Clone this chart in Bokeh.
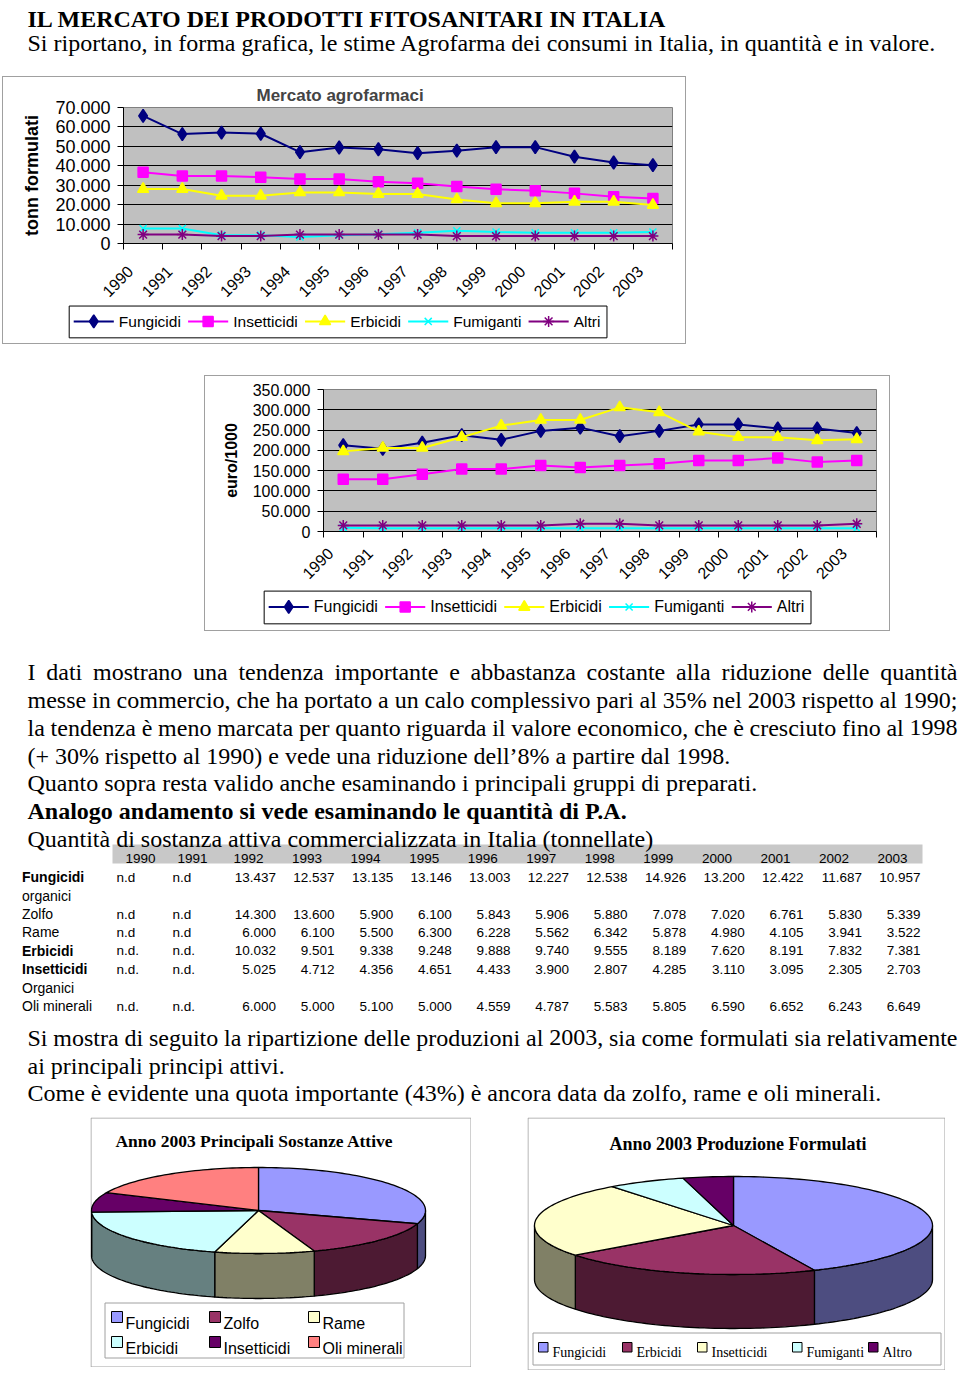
import math, glob, os
from bokeh.plotting import figure
from bokeh.models import Range1d, FixedTicker, Spacer, CustomJSTickFormatter
from bokeh.layouts import column, row
from bokeh.core.properties import value
from bokeh.embed import file_html
from bokeh.resources import INLINE

# ------------------------------------------------------------------ data
years = list(range(1990, 2004))

# tonnellate di formulati
tonn_fungicidi = [65700, 56300, 57100, 56500, 47000, 49400, 48500, 46500, 47800, 49600, 49600, 44700, 41700, 40300]
tonn_insetticidi = [36700, 34800, 34800, 34100, 33200, 33200, 31800, 31000, 29300, 27900, 27200, 25800, 24100, 23200]
tonn_erbicidi = [28000, 28000, 24600, 24600, 26300, 26300, 25500, 25500, 22700, 20700, 20700, 21500, 21500, 19800]
tonn_fumiganti = [7700, 7700, 4300, 4300, 3400, 4300, 4800, 5500, 6500, 5900, 5500, 5500, 5500, 5900]
tonn_altri = [4600, 4600, 3800, 3800, 4600, 4600, 4600, 4600, 3800, 3800, 3800, 3800, 3800, 3800]

# euro/1000
euro_fungicidi = [212500, 204000, 219000, 237500, 226000, 248000, 256000, 235000, 248000, 264000, 264000, 254000, 254000, 242500]
euro_insetticidi = [129000, 129000, 141000, 154000, 154000, 162500, 158000, 162500, 167000, 175000, 175000, 181000, 171000, 175000]
euro_erbicidi = [197500, 206000, 206000, 232500, 261000, 275000, 275000, 306000, 294000, 246000, 232500, 232500, 225000, 227500]
euro_fumiganti = [9000, 8000, 8000, 8000, 8000, 8000, 8000, 8000, 8000, 8000, 8000, 8000, 8000, 8000]
euro_altri = [15000, 15000, 15000, 15000, 15000, 15000, 19000, 19000, 15000, 15000, 15000, 15000, 15000, 19000]

series_names = ["Fungicidi", "Insetticidi", "Erbicidi", "Fumiganti", "Altri"]

# tabella sostanza attiva (1992-2003)
tab_years = years
tab_fungicidi_organici = [13437, 12537, 13135, 13146, 13003, 12227, 12538, 14926, 13200, 12422, 11687, 10957]
tab_zolfo = [14300, 13600, 5900, 6100, 5843, 5906, 5880, 7078, 7020, 6761, 5830, 5339]
tab_rame = [6000, 6100, 5500, 6300, 6228, 5562, 6342, 5878, 4980, 4105, 3941, 3522]
tab_erbicidi = [10032, 9501, 9338, 9248, 9888, 9740, 9555, 8189, 7620, 8191, 7832, 7381]
tab_insetticidi_organici = [5025, 4712, 4356, 4651, 4433, 3900, 2807, 4285, 3110, 3095, 2305, 2703]
tab_oli_minerali = [6000, 5000, 5100, 5000, 4559, 4787, 5583, 5805, 6590, 6652, 6243, 6649]

pie1_labels = ["Fungicidi", "Zolfo", "Rame", "Erbicidi", "Insetticidi", "Oli minerali"]
pie1_values = [10957, 5339, 3522, 7381, 2703, 6649]
pie2_labels = ["Fungicidi", "Erbicidi", "Insetticidi", "Fumiganti", "Altro"]
pie2_values = [40300, 19800, 23200, 5900, 3800]

# ------------------------------------------------------------------ helpers
SERIF = "Liberation Serif"
SANS = "Liberation Sans"
BOX = "1px solid #a0a0a0"
_fonts = {}
_FILES = {(SERIF, False): "LiberationSerif-Regular.ttf", (SERIF, True): "LiberationSerif-Bold.ttf",
          (SANS, False): "LiberationSans-Regular.ttf", (SANS, True): "LiberationSans-Bold.ttf"}


def _font_file(name):
    for d in ["/usr/share/fonts", "/usr/local/share/fonts", os.path.expanduser("~/.fonts")]:
        hits = glob.glob(os.path.join(d, "**", name), recursive=True)
        if hits:
            return hits[0]
    return None


def measure(s, size, bold=False, font=SERIF):
    key = (font, size, bold)
    if key not in _fonts:
        try:
            from PIL import ImageFont
            path = _font_file(_FILES[(font, bold)])
            _fonts[key] = ImageFont.truetype(path, size) if path else None
        except Exception:
            _fonts[key] = None
    f = _fonts[key]
    if f is None:
        return len(s) * size * (0.45 if font == SERIF else 0.5)
    return f.getlength(s)


def justify(text, x0, x1, y, size, bold=False):
    words = text.split(" ")
    ws = [measure(w, size, bold) for w in words]
    gap = (x1 - x0 - sum(ws)) / (len(words) - 1)
    out, x = [], x0
    for w, wd in zip(words, ws):
        out.append((x, y, w))
        x += wd + gap
    return out


def draw_texts(p, items, font, size, style="normal", align="left", color="black", baseline="alphabetic"):
    if not items:
        return
    xs, ys, ts = zip(*items)
    p.text(x=list(xs), y=list(ys), text=list(ts), text_font=value(font),
           text_font_size=value(f"{size}px"), text_font_style=style,
           text_align=align, text_baseline=baseline, text_color=color)


def no_align(p):
    try:
        p.frame_align = False
    except Exception:
        pass


def canvas(x0, x1, y0, y1, w=None, h=None):
    p = figure(width=w or (x1 - x0), height=h or (y1 - y0), x_range=Range1d(x0, x1), y_range=Range1d(y1, y0),
               output_backend="svg", toolbar_location=None, min_border=0,
               x_axis_type=None, y_axis_type=None, background_fill_color="white",
               border_fill_color="white")
    p.outline_line_color = None
    no_align(p)
    return p


def it_fmt(v):
    return f"{v:,}".replace(",", ".")


FMT = CustomJSTickFormatter(code=r'return Math.round(tick).toString().replace(/\B(?=(\d{3})+(?!\d))/g, ".");')

STYLES = [("#000080", "diamond", 13), ("#FF00FF", "square", 10), ("#FFFF00", "triangle", 11),
          ("#00FFFF", "x", 10), ("#800080", "asterisk", 11)]


def line_chart(w, h, bl, bt, br, bb, ymax, ystep, data, ylabel, ylabel_fs, ytick_fs, xtick_fs,
               xstandoff, xshift, title=None, title_offset=0):
    p = figure(width=w, height=h, x_range=Range1d(1989.5, 2003.5), y_range=Range1d(0, ymax),
               output_backend="svg", toolbar_location=None,
               min_border_left=bl, min_border_right=br, min_border_top=bt, min_border_bottom=bb,
               background_fill_color="#C0C0C0", border_fill_color="white")
    no_align(p)
    p.outline_line_color = "#808080"
    p.styles = {"border-top": BOX, "border-left": BOX, "border-right": BOX}
    if title:
        p.title.text = title
        p.title.text_font = SANS
        p.title.text_font_size = "17px"
        p.title.text_font_style = "bold"
        p.title.align = "left"
        p.title.offset = title_offset
        try:
            p.title.standoff = 6
        except Exception:
            pass

    xa = p.xaxis[0]
    xa.ticker = FixedTicker(ticks=[y - xshift for y in years],
                            minor_ticks=[y - 0.5 for y in years] + [years[-1] + 0.5])
    xa.formatter = CustomJSTickFormatter(code="return String(Math.round(tick + %r));" % xshift)
    xa.major_tick_out = 0
    xa.major_tick_in = 0
    xa.minor_tick_out = 6
    xa.minor_tick_in = 0
    xa.minor_tick_line_color = "black"
    xa.axis_line_color = "black"
    xa.major_label_orientation = math.pi / 4
    xa.major_label_text_font = SANS
    xa.major_label_text_font_size = f"{xtick_fs}px"
    xa.major_label_text_color = "black"
    xa.major_label_standoff = xstandoff
    p.xgrid.visible = False

    yt = FixedTicker(ticks=list(range(0, ymax + 1, ystep)))
    ya = p.yaxis[0]
    ya.ticker = yt
    ya.formatter = FMT
    ya.major_tick_out = 6
    ya.major_tick_in = 0
    ya.minor_tick_out = 0
    ya.minor_tick_in = 0
    ya.major_tick_line_color = "black"
    ya.axis_line_color = "black"
    ya.major_label_standoff = 7
    ya.major_label_text_font = SANS
    ya.major_label_text_font_size = f"{ytick_fs}px"
    ya.major_label_text_color = "black"
    ya.axis_label = ylabel
    ya.axis_label_text_font = SANS
    ya.axis_label_text_font_size = f"{ylabel_fs}px"
    ya.axis_label_text_font_style = "bold"
    ya.axis_label_text_color = "black"
    ya.axis_label_standoff = 10
    p.ygrid[0].ticker = yt
    p.ygrid.grid_line_color = "black"
    p.ygrid.grid_line_width = 1

    for name, ys, (color, marker, size) in zip(series_names, data, STYLES):
        p.line(years, ys, line_color=color, line_width=2)
        p.scatter(years, ys, marker=marker, size=size, fill_color=color, line_color=color, line_width=1.5)
    return p


def legend_canvas(x0, x1, y0, y1, w, h, left, top, bottom, fs):
    p = canvas(x0, x1, y0, y1, w, h)
    p.styles = {"border-bottom": BOX, "border-left": BOX, "border-right": BOX}
    yc = (top + bottom) / 2.0
    x = left + 5
    texts = []
    for name, (color, marker, size) in zip(series_names, STYLES):
        p.segment(x0=[x], y0=[yc], x1=[x + 40], y1=[yc], line_color=color, line_width=2)
        p.scatter(x=[x + 20], y=[yc], marker=marker, size=size, fill_color=color, line_color=color, line_width=1.5)
        texts.append((x + 45, yc, name))
        x += 45 + measure(name, fs, False, SANS) + 7
    right = x - 7 + 6
    p.quad(left=[left + 0.5], right=[right + 0.5], top=[top + 0.5], bottom=[bottom + 0.5],
           fill_color=None, line_color="black", line_width=1, level="underlay")
    draw_texts(p, texts, SANS, fs, baseline="middle")
    return p


def pie3d(p, vals, tops, sides, cx, cy, rx, ry, depth):
    tot = float(sum(vals))
    b = [0.0]
    for v in vals:
        b.append(b[-1] + 360.0 * v / tot)

    def arc(a0, a1, dy=0.0):
        n = max(2, int(abs(a1 - a0) / 1.5) + 2)
        angs = [a0 + (a1 - a0) * k / (n - 1) for k in range(n)]
        return ([cx + rx * math.sin(math.radians(a)) for a in angs],
                [cy - ry * math.cos(math.radians(a)) + dy for a in angs])

    for i in range(len(vals)):
        a0, a1 = max(b[i], 90.0), min(b[i + 1], 270.0)
        if a1 > a0:
            tx, ty = arc(a0, a1)
            bx, by = arc(a1, a0, depth)
            p.patch(tx + bx, ty + by, fill_color=sides[i], line_color="black", line_width=1.3)
    for i in range(len(vals)):
        ax, ay = arc(b[i], b[i + 1])
        p.patch([cx] + ax, [cy] + ay, fill_color=tops[i], line_color="black", line_width=1.3)


# ------------------------------------------------------------------ header
hdr = canvas(0, 960, 0, 76)
draw_texts(hdr, [(27, 18.5, "IL MERCATO DEI PRODOTTI FITOSANITARI IN ITALIA")], SERIF, 24, "bold")
draw_texts(hdr, [(27, 42.5, "Si riportano, in forma grafica, le stime Agrofarma dei consumi in Italia, in quantità e in valore.")], SERIF, 24)

# ------------------------------------------------------------------ charts
# chart 1 box: x 2..686, y 76..344 ; plot area x 123..670, y 107..244
chart1 = line_chart(684, 228, 120, 30, 15, 60, 70000, 10000,
                    [tonn_fungicidi, tonn_insetticidi, tonn_erbicidi, tonn_fumiganti, tonn_altri],
                    "tonn formulati", 18, 18, 16, 19, 0.33,
                    title="Mercato agrofarmaci", title_offset=133)
leg1 = legend_canvas(3, 685, 304, 343, 684, 40, 68, 305, 336, 15.5)

# chart 2 box: x 204..890, y 375..631 ; plot area x 323..874, y 389..531
chart2 = line_chart(686, 211, 118, 13, 15, 55, 350000, 50000,
                    [euro_fungicidi, euro_insetticidi, euro_erbicidi, euro_fumiganti, euro_altri],
                    "euro/1000", 16, 16, 16, 13, 0.33)
leg2 = legend_canvas(205, 889, 586, 630, 686, 45, 263, 590, 622, 16)

# ------------------------------------------------------------------ middle text + table
mid = canvas(0, 960, 631, 1117)
mid.quad(left=[112], right=[922], top=[844], bottom=[863], fill_color="#C8C8C8", line_color=None)
reg, bold = [], []
para = ["I dati mostrano una tendenza importante e abbastanza costante alla riduzione delle quantità",
        "messe in commercio, che ha portato a un calo complessivo pari al 35% nel 2003 rispetto al 1990;",
        "la tendenza è meno marcata per quanto riguarda il valore economico, che è cresciuto fino al 1998"]
base = [671.7, 699.5, 727.3]
for t, y in zip(para, base):
    reg += justify(t, 27, 957, y, 24)
reg.append((27, 755.1, "(+ 30% rispetto al 1990) e vede una riduzione dell’8% a partire dal 1998."))
reg.append((27, 782.9, "Quanto sopra resta valido anche esaminando i principali gruppi di preparati."))
bold.append((27, 810.7, "Analogo andamento si vede esaminando le quantità di P.A."))
reg.append((27, 838.5, "Quantità di sostanza attiva commercializzata in Italia (tonnellate)"))
reg += justify("Si mostra di seguito la ripartizione delle produzioni al 2003, sia come formulati sia relativamente",
               27, 957, 1037.3, 24)
reg.append((27, 1065.1, "ai principali principi attivi."))
reg.append((27, 1092.9, "Come è evidente una quota importante (43%) è ancora data da zolfo, rame e oli minerali."))
draw_texts(mid, reg, SERIF, 24)
draw_texts(mid, bold, SERIF, 24, "bold")

# table
year_cx = [140, 192] + [248 + 58.55 * k for k in range(12)]
draw_texts(mid, [(x, 858, str(y)) for x, y in zip(year_cx, tab_years)], SANS, 13.5, align="center")
row_y = [876.7 + 18.4 * r for r in range(8)]
lab_bold = [(21.5, row_y[0], "Fungicidi"), (21.5, row_y[4], "Erbicidi"), (21.5, row_y[5], "Insetticidi")]
lab_reg = [(21.5, row_y[1], "organici"), (21.5, row_y[2], "Zolfo"), (21.5, row_y[3], "Rame"),
           (21.5, row_y[6], "Organici"), (21.5, row_y[7], "Oli minerali")]
draw_texts(mid, lab_bold, SANS, 14, "bold")
draw_texts(mid, lab_reg, SANS, 14)
tab_rows = [(row_y[0], "n.d", tab_fungicidi_organici), (row_y[2], "n.d", tab_zolfo),
            (row_y[3], "n.d", tab_rame), (row_y[4], "n.d.", tab_erbicidi),
            (row_y[5], "n.d.", tab_insetticidi_organici), (row_y[7], "n.d.", tab_oli_minerali)]
nd_items, num_items = [], []
for y, nd, vals in tab_rows:
    nd_items += [(116, y, nd), (172, y, nd)]
    for k, v in enumerate(vals):
        num_items.append((275.5 + 58.6 * k, y, it_fmt(v)))
draw_texts(mid, nd_items, SANS, 13.5)
draw_texts(mid, num_items, SANS, 13.5, align="right")

# ------------------------------------------------------------------ pies
pie1 = canvas(90, 471, 1117, 1367)
pie1.quad(left=[90.5], right=[470.5], top=[1117.5], bottom=[1366.5], fill_color=None, line_color="#a0a0a0")
draw_texts(pie1, [(254, 1140, "Anno 2003 Principali Sostanze Attive")], SERIF, 17.5, "bold", align="center")
pie1_tops = ["#9999FF", "#993366", "#FFFFCC", "#CCFFFF", "#660066", "#FF8080"]
pie1_sides = ["#4D4D80", "#4D1A33", "#808066", "#668080", "#330033", "#804040"]
pie3d(pie1, pie1_values, pie1_tops, pie1_sides, 258, 1210, 167, 43, 45)
pie1.quad(left=[104.5], right=[403.5], top=[1302.5], bottom=[1357.5], fill_color="white", line_color="#a0a0a0")
l1x = [111, 209, 308]
l1y = [1311, 1336]
for i, (lab, col) in enumerate(zip(pie1_labels, pie1_tops)):
    cx, ry_ = l1x[i % 3], l1y[i // 3]
    pie1.quad(left=[cx], right=[cx + 11], top=[ry_], bottom=[ry_ + 11], fill_color=col, line_color="black")
draw_texts(pie1, [(l1x[i % 3] + 14, l1y[i // 3] + 11.5, lab) for i, lab in enumerate(pie1_labels)], SANS, 16)

pie2 = canvas(527, 945, 1117, 1370)
pie2.quad(left=[527.5], right=[944.5], top=[1117.5], bottom=[1369.5], fill_color=None, line_color="#a0a0a0")
draw_texts(pie2, [(737.5, 1143.5, "Anno 2003 Produzione Formulati")], SERIF, 18, "bold", align="center")
pie2_tops = ["#9999FF", "#993366", "#FFFFCC", "#CCFFFF", "#660066"]
pie2_sides = ["#4D4D80", "#4D1A33", "#808066", "#668080", "#330033"]
pie3d(pie2, pie2_values, pie2_tops, pie2_sides, 733, 1225, 199, 49, 54)
pie2.quad(left=[532.5], right=[940.5], top=[1332.5], bottom=[1364.5], fill_color="white", line_color="#a0a0a0")
l2x = [538, 622, 697, 792, 868]
for x, col in zip(l2x, pie2_tops):
    pie2.quad(left=[x], right=[x + 9.5], top=[1342], bottom=[1351.5], fill_color=col, line_color="black")
draw_texts(pie2, [(x + 14, 1352, lab) for x, lab in zip(l2x, pie2_labels)], SERIF, 14)

# ------------------------------------------------------------------ layout
layout = column(
    hdr,
    row(Spacer(width=2, height=268), column(chart1, leg1)),
    Spacer(width=10, height=31),
    row(Spacer(width=204, height=256), column(chart2, leg2)),
    mid,
    row(Spacer(width=90, height=253), pie1, Spacer(width=56, height=253), pie2),
)

open("out.html", "w").write(file_html(layout, INLINE))
